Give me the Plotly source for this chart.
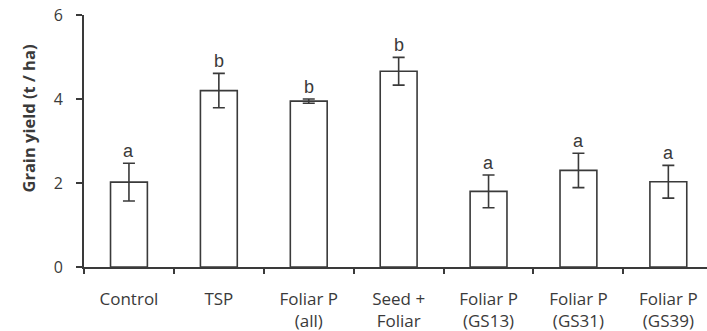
import plotly.graph_objects as go

categories = ["Control", "TSP", "Foliar P<br>(all)", "Seed +<br>Foliar",
              "Foliar P<br>(GS13)", "Foliar P<br>(GS31)", "Foliar P<br>(GS39)"]
yield_mean = [2.02, 4.20, 3.95, 4.66, 1.80, 2.30, 2.03]
yield_err = [0.45, 0.41, 0.05, 0.33, 0.39, 0.41, 0.39]
letters = ["a", "b", "b", "b", "a", "a", "a"]
y_ticks = [0, 2, 4, 6]

x_pos = list(range(len(categories)))
ink = "#3a3a3a"

fig = go.Figure()
fig.add_trace(go.Bar(
    x=x_pos, y=yield_mean, width=0.41,
    marker=dict(color="white", line=dict(color=ink, width=1.6)),
    error_y=dict(type="data", array=yield_err, color=ink, thickness=1.6, width=6),
    showlegend=False, hoverinfo="skip",
))

for xi, m, e, t in zip(x_pos, yield_mean, yield_err, letters):
    fig.add_annotation(x=xi, y=m + e, text=t, showarrow=False, yanchor="bottom",
                       yshift=0, font=dict(family="Liberation Sans", size=18, color=ink))

fig.add_annotation(xref="paper", yref="paper", x=-0.1108, y=0.591,
                   text="<b>Grain yield (t / ha)</b>", textangle=-90, showarrow=False,
                   font=dict(family="Open Sans", size=16.5, color=ink))

fig.update_layout(
    width=707, height=331,
    margin=dict(l=84, r=0, t=15, b=64),
    paper_bgcolor="white", plot_bgcolor="white",
    bargap=0.59,
    xaxis=dict(
        range=[-0.5, 6.43], tickvals=x_pos, ticktext=categories, ticks="",
        showline=True, linecolor=ink, linewidth=1.6, showgrid=False, zeroline=False,
        tickfont=dict(family="Open Sans", size=17, color=ink), ticklabelstandoff=16,
        minor=dict(tick0=0.5, dtick=1, ticks="outside", ticklen=5, tickwidth=1.6,
                   tickcolor=ink, showgrid=False),
    ),
    yaxis=dict(
        range=[0, 6], tickvals=y_ticks, ticks="outside", ticklen=6, tickwidth=1.6,
        tickcolor=ink, showline=True, linecolor=ink, linewidth=1.6, showgrid=False,
        zeroline=False, tickfont=dict(family="Open Sans", size=16, color=ink),
        ticklabelstandoff=10,
    ),
)

fig.write_html("out.html")
